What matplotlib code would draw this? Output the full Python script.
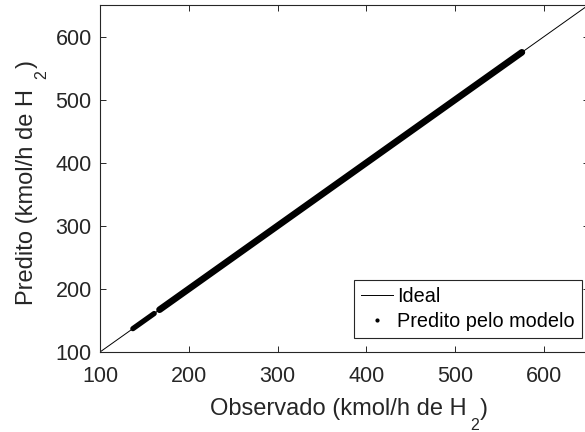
import matplotlib
matplotlib.use("Agg")
import matplotlib.pyplot as plt
from matplotlib.lines import Line2D

plt.rcParams['font.family'] = ['Liberation Sans', 'DejaVu Sans']

# Observed vs predicted H2 flow (kmol/h)
obs_low = [137, 141, 145, 149, 153, 157, 161]
pred_low = [137, 141, 145, 149, 153, 157, 161]
observed = [167, 171, 175, 179, 183, 187, 191, 195, 199,
            203, 207, 211, 215, 219, 223, 227, 231, 235, 239,
            243, 247, 251, 255, 259, 263, 267, 271, 275, 279,
            283, 287, 291, 295, 299, 303, 307, 311, 315, 319,
            323, 327, 331, 335, 339, 343, 347, 351, 355, 359,
            363, 367, 371, 375, 379, 383, 387, 391, 395, 399,
            403, 407, 411, 415, 419, 423, 427, 431, 435, 439,
            443, 447, 451, 455, 459, 463, 467, 471, 475, 479,
            483, 487, 491, 495, 499, 503, 507, 511, 515, 519,
            523, 527, 531, 535, 539, 543, 547, 551, 555, 559,
            563, 567, 571, 575]
predicted = [167, 171, 175, 179, 183, 187, 191, 195, 199,
             203, 207, 211, 215, 219, 223, 227, 231, 235, 239,
             243, 247, 251, 255, 259, 263, 267, 271, 275, 279,
             283, 287, 291, 295, 299, 303, 307, 311, 315, 319,
             323, 327, 331, 335, 339, 343, 347, 351, 355, 359,
             363, 367, 371, 375, 379, 383, 387, 391, 395, 399,
             403, 407, 411, 415, 419, 423, 427, 431, 435, 439,
             443, 447, 451, 455, 459, 463, 467, 471, 475, 479,
             483, 487, 491, 495, 499, 503, 507, 511, 515, 519,
             523, 527, 531, 535, 539, 543, 547, 551, 555, 559,
             563, 567, 571, 575]
ideal = [100, 650]
ticks = [100, 200, 300, 400, 500, 600]

W, H = 585, 432
fig = plt.figure(figsize=(W / 100, H / 100), dpi=100)
ax = fig.add_axes([100 / W, 1 - 352 / H, 488.5 / W, 347 / H])

gray = '#262626'
ax.plot(ideal, ideal, color='black', lw=0.7, zorder=2)
ax.plot(obs_low, pred_low, color='black', lw=3.8, solid_capstyle='round',
        solid_joinstyle='round', zorder=3)
ax.plot(observed, predicted, color='black', lw=4.8, solid_capstyle='round',
        solid_joinstyle='round', zorder=3)

ax.set_xlim(100, 650)
ax.set_ylim(100, 650)
ax.set_xticks(ticks)
ax.set_yticks(ticks)
ax.tick_params(direction='in', length=4.5, width=0.7, colors=gray,
               labelsize=15.5, top=True, right=True)
ax.tick_params(axis='x', pad=10)
ax.tick_params(axis='y', pad=6)
for s in ax.spines.values():
    s.set_color(gray)
    s.set_linewidth(0.8)


def fx(px):
    return px / W


def fy(py):
    return 1 - py / H


lab = 17
sub = 11.5
# x label: "Observado (kmol/h de H_2)"
fig.text(fx(467), fy(415), 'Observado (kmol/h de H', ha='right', va='baseline',
         fontsize=lab, color=gray)
fig.text(fx(470), fy(430), '2', ha='left', va='baseline', fontsize=sub, color=gray)
fig.text(fx(480), fy(415), ')', ha='left', va='baseline', fontsize=lab, color=gray)
# y label: "Predito (kmol/h de H_2)"
fig.text(fx(33), fy(89), 'Predito (kmol/h de H', ha='right', va='baseline',
         rotation=90, rotation_mode='anchor', fontsize=lab, color=gray)
fig.text(fx(46), fy(79), '2', ha='left', va='baseline', rotation=90,
         rotation_mode='anchor', fontsize=sub, color=gray)
fig.text(fx(33), fy(68), ')', ha='left', va='baseline', rotation=90,
         rotation_mode='anchor', fontsize=lab, color=gray)

h1 = Line2D([], [], color='black', lw=0.7)
h2 = Line2D([], [], ls='none', marker='o', markersize=2, color='black')
leg = ax.legend([h1, h2], ['Ideal', 'Predito pelo modelo'],
                loc='lower right', bbox_to_anchor=(582 / W, 1 - 338 / H),
                bbox_transform=fig.transFigure, fontsize=14.3,
                frameon=True, fancybox=False, framealpha=1,
                edgecolor=gray, borderpad=0.35, labelspacing=0.3,
                handlelength=1.65, handletextpad=0.2, borderaxespad=0)
leg.get_frame().set_linewidth(0.8)

fig.savefig('out.png', dpi=100)
